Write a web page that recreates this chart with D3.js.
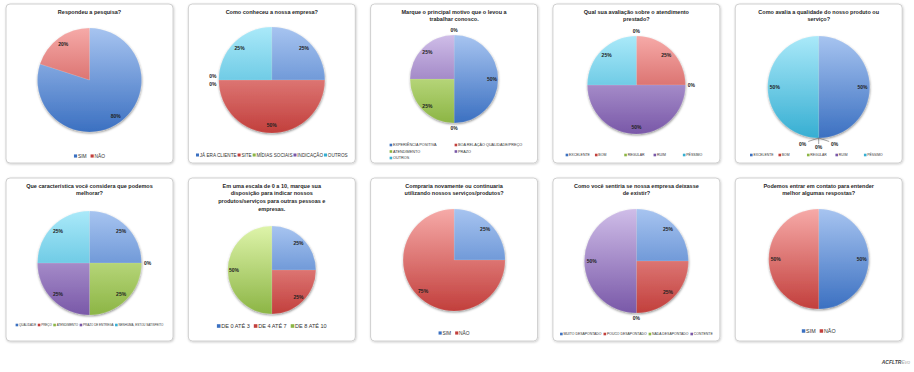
<!DOCTYPE html>
<html><head><meta charset="utf-8">
<script src="https://cdn.jsdelivr.net/npm/d3@7"></script>
<style>html,body{margin:0;padding:0;background:#fff;overflow:hidden}</style>
</head><body>
<svg id="c" width="914" height="372"></svg>
<script>
// ---------- DATA ----------
const titles = [
  ["Respondeu a pesquisa?"],
  ["Como conheceu a nossa empresa?"],
  ["Marque o principal motivo que o levou a", "trabalhar conosco."],
  ["Qual sua avaliação sobre o atendimento", "prestado?"],
  ["Como avalia a qualidade do nosso produto ou", "serviço?"],
  ["Que característica você considera que podemos", "melhorar?"],
  ["Em uma escala de 0 a 10, marque sua", "disposição para indicar nossos", "produtos/serviços para outras  pessoas e", "empresas."],
  ["Compraria novamente ou continuaria", "utilizando nossos serviços/produtos?"],
  ["Como você sentiria se nossa empresa deixasse", "de existir?"],
  ["Podemos entrar em contato para entender", "melhor algumas respostas?"]
];
const yesNoCategories = ["SIM", "NÃO"];
const q1Values = [80, 20];
const q2Categories = ["JÁ ERA CLIENTE", "SITE", "MÍDIAS SOCIAIS", "INDICAÇÃO", "OUTROS"];
const q2Values = [25, 50, 0, 0, 25];
const q3Categories = ["EXPERIÊNCIA POSITIVA", "BOA RELAÇÃO QUALIDADE/PREÇO", "ATENDIMENTO", "PRAZO", "OUTROS"];
const q3Values = [50, 0, 25, 25, 0];
const ratingCategories = ["EXCELENTE", "BOM", "REGULAR", "RUIM", "PÉSSIMO"];
const q4Values = [0, 25, 0, 50, 25];
const q5Values = [50, 0, 0, 0, 50];
const q6Categories = ["QUALIDADE", "PREÇO", "ATENDIMENTO", "PRAZO DE ENTREGA", "NENHUMA, ESTOU SATISFEITO"];
const q6Values = [25, 0, 25, 25, 25];
const q7Categories = ["DE 0 ATÉ 3", "DE 4 ATÉ 7", "DE 8 ATÉ 10"];
const q7Values = [25, 25, 50];
const q8Values = [25, 75];
const q9Categories = ["MUITO DESAPONTADO", "POUCO DESAPONTADO", "NADA DESAPONTADO", "CONTENTE"];
const q9Values = [25, 25, 0, 50];
const q10Values = [50, 50];

const charts = [
  {cats: yesNoCategories, vals: q1Values},
  {cats: q2Categories, vals: q2Values},
  {cats: q3Categories, vals: q3Values},
  {cats: ratingCategories, vals: q4Values},
  {cats: ratingCategories, vals: q5Values},
  {cats: q6Categories, vals: q6Values},
  {cats: q7Categories, vals: q7Values},
  {cats: yesNoCategories, vals: q8Values},
  {cats: q9Categories, vals: q9Values},
  {cats: yesNoCategories, vals: q10Values}
].map((c, i) => ({...c, title: titles[i]}));

// ---------- STYLE / LAYOUT ----------
const palette = [
  ["#a7c4f0", "#3b70c1"], // blue
  ["#f6aaa8", "#c23f3c"], // red
  ["#def4aa", "#8cb545"], // green
  ["#cfbde8", "#7958a8"], // purple
  ["#aae9f9", "#36aed2"]  // cyan
];
const layout = [
  {cy: 80, r: 52, ly: 156, width: 30, mode: "flow", gap: 4},
  {cy: 80, r: 53, ly: 155, width: 150, mode: "flow", gap: 1},
  {cy: 79, r: 44, ly: 145, width: 68, mode: "grid", cols: [19, 84], rowH: 6.5},
  {cy: 85, r: 49, ly: 155, width: 142, mode: "equal", gap: 5},
  {cy: 87, r: 51, ly: 155, width: 138, mode: "equal", gap: 5},
  {cy: 263, r: 52, ly: 325, width: 148, mode: "flow", gap: 1.5},
  {cy: 270, r: 44, ly: 326, width: 107, mode: "flow", gap: 4},
  {cy: 260, r: 51, ly: 333, width: 30, mode: "flow", gap: 4},
  {cy: 261, r: 52, ly: 334, width: 153, mode: "flow", gap: 2},
  {cy: 259, r: 50, ly: 331, width: 32, mode: "flow", gap: 4}
];
const panelW = 167;
const rowTop = [4, 178], rowH = [159, 163];
const font = "'Liberation Sans', Arial, sans-serif";

const svg = d3.select("#c");
const defs = svg.append("defs");
const ps = defs.append("filter").attr("id", "pshadow").attr("x", "-10%").attr("y", "-10%").attr("width", "120%").attr("height", "120%");
ps.append("feDropShadow").attr("dx", 0.6).attr("dy", 0.8).attr("stdDeviation", 0.8).attr("flood-color", "#000").attr("flood-opacity", 0.22);
const pieSh = defs.append("filter").attr("id", "pieshadow").attr("x", "-20%").attr("y", "-20%").attr("width", "140%").attr("height", "140%");
pieSh.append("feDropShadow").attr("dx", 0.3).attr("dy", 1.2).attr("stdDeviation", 0.9).attr("flood-color", "#000").attr("flood-opacity", 0.45);

const pie = d3.pie().sort(null).value(d => d.v);

const meas = svg.append("text").attr("font-family", font).attr("font-size", 10).attr("visibility", "hidden");
const tw10 = s => { meas.text(s); return meas.node().getComputedTextLength(); };

charts.forEach((ch, i) => {
  const L = layout[i];
  const row = Math.floor(i / 5), col = i % 5;
  const px = 6 + col * 182.3, py = rowTop[row], ph = rowH[row];
  const cx = px + panelW / 2;

  svg.append("rect").attr("x", px).attr("y", py).attr("width", panelW).attr("height", ph)
    .attr("rx", 4).attr("fill", "#fff").attr("stroke", "#c4c4c4").attr("stroke-width", 0.8)
    .attr("filter", "url(#pshadow)");

  const t = svg.append("text").attr("font-family", font).attr("font-size", 5.5)
    .attr("font-weight", "bold").attr("fill", "#1f1f1f").attr("text-anchor", "middle");
  ch.title.forEach((line, k) => {
    t.append("tspan").attr("x", cx).attr("y", py + 9.5 + k * 7.8).text(line);
  });

  palette.forEach((c, ci) => {
    const g = defs.append("linearGradient").attr("id", `g${i}_${ci}`)
      .attr("gradientUnits", "userSpaceOnUse").attr("x1", 0).attr("y1", -L.r).attr("x2", 0).attr("y2", L.r);
    g.append("stop").attr("offset", "0%").attr("stop-color", c[0]);
    g.append("stop").attr("offset", "100%").attr("stop-color", c[1]);
  });

  const data = ch.cats.map((c, k) => ({c, v: ch.vals[k], k}));
  const arcs = pie(data);
  const arc = d3.arc().innerRadius(0).outerRadius(L.r);
  const gp = svg.append("g").attr("transform", `translate(${cx},${L.cy})`);
  gp.append("g").attr("filter", "url(#pieshadow)")
    .selectAll("path").data(arcs.filter(a => a.data.v > 0)).join("path")
    .attr("d", arc).attr("fill", a => `url(#g${i}_${a.data.k})`)
    .attr("stroke", "rgba(255,255,255,0.35)").attr("stroke-width", 0.3);

  const lab = (x, y, txt) => gp.append("text").attr("x", x).attr("y", y).attr("dy", "0.35em")
    .attr("text-anchor", "middle").attr("font-family", font).attr("font-size", 5)
    .attr("font-weight", "bold").attr("fill", "#222").text(txt);
  arcs.filter(a => a.data.v > 0).forEach(a => {
    const m = (a.startAngle + a.endAngle) / 2, rr = L.r * 0.86;
    lab(rr * Math.sin(m), -rr * Math.cos(m), a.data.v + "%");
  });
  const zeroGroups = d3.groups(arcs.filter(a => a.data.v === 0), a => a.startAngle.toFixed(4));
  zeroGroups.forEach(([key, grp]) => {
    const a = +key, s = Math.sin(a), c = -Math.cos(a);
    const tx = -c, ty = s;
    const w = 7, h = 5;
    const off = L.r + 2.5 + Math.abs(s) * w / 2 + Math.abs(c) * h / 2;
    if (grp.length <= 2) {
      grp.forEach((z, k) => {
        const sh = grp.length === 1 ? 0 : (k - 0.5) * 8;
        lab(s * off + tx * sh, c * off + ty * sh, "0%");
      });
    } else {
      grp.forEach((z, k) => {
        const sh = (k - (grp.length - 1) / 2) * 14;
        const rad = L.r + (k === 1 ? 9 : 6.5);
        const lx = s * rad + tx * sh, ly = c * rad + ty * sh;
        gp.append("line").attr("x1", s * L.r).attr("y1", c * L.r)
          .attr("x2", s * (rad - 3) + tx * sh * 0.75).attr("y2", c * (rad - 3) + ty * sh * 0.75)
          .attr("stroke", "#333").attr("stroke-width", 0.45);
        lab(lx + tx * (k === 0 ? -2 : k === 2 ? 2 : 0), ly, "0%");
      });
    }
  });

  const n = ch.cats.length;
  const w10 = ch.cats.map(tw10);
  let fs;
  const ms0 = 2.6, mg = 0.8;
  if (L.mode === "grid") {
    fs = 10 * (L.width - ms0 - mg) / d3.max(w10);
  } else if (L.mode === "equal") {
    fs = 10 * ((L.width + L.gap) / n - L.gap - ms0 - mg) / d3.max(w10);
  } else {
    fs = 10 * (L.width - n * (ms0 + mg) - L.gap * (n - 1)) / d3.sum(w10);
  }
  const ms = Math.max(ms0, fs * 0.65);
  const lg = svg.append("g");
  const items = ch.cats.map((c, k) => {
    const it = lg.append("g");
    it.append("rect").attr("width", ms).attr("height", ms).attr("y", -ms / 2)
      .attr("fill", palette[k][1]);
    const tt = it.append("text").attr("x", ms + mg).attr("dy", "0.35em")
      .attr("font-family", font).attr("font-size", fs).attr("fill", "#333").text(c);
    return {it, w: ms + mg + tt.node().getComputedTextLength()};
  });
  if (L.mode === "grid") {
    items.forEach((o, k) => {
      o.it.attr("transform", `translate(${px + L.cols[k % 2]},${L.ly + Math.floor(k / 2) * L.rowH})`);
    });
  } else if (L.mode === "equal") {
    const cw = d3.max(items, o => o.w) + L.gap;
    const total = cw * items.length - L.gap;
    let x = cx - total / 2;
    items.forEach(o => { o.it.attr("transform", `translate(${x},${L.ly})`); x += cw; });
  } else {
    const total = d3.sum(items, o => o.w) + L.gap * (items.length - 1);
    let x = cx - total / 2;
    items.forEach(o => { o.it.attr("transform", `translate(${x},${L.ly})`); x += o.w + L.gap; });
  }
});
meas.remove();

const ft = svg.append("text").attr("x", 910).attr("y", 364).attr("text-anchor", "end")
  .attr("font-family", font).attr("font-size", 5).attr("font-style", "italic");
ft.append("tspan").attr("font-weight", "bold").attr("fill", "#444").text("ACFLTR");
ft.append("tspan").attr("fill", "#aaa").text("Evo");
</script>
</body></html>
